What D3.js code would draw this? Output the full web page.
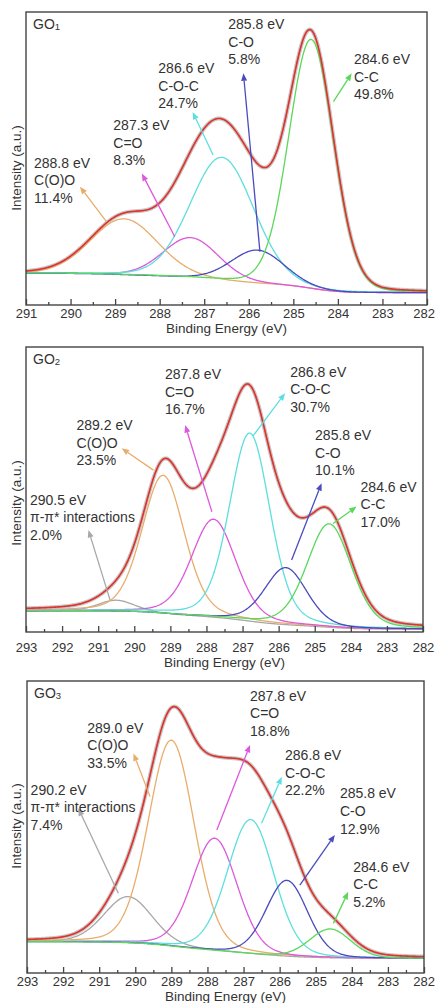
<!DOCTYPE html>
<html>
<head>
<meta charset="utf-8">
<script src="https://cdn.jsdelivr.net/npm/d3@7/dist/d3.min.js"></script>
<style>
  body { margin: 0; background: #fff; }
  svg { display: block; }
  text { font-family: "Liberation Sans", Arial, Helvetica, sans-serif; fill: #333; }
</style>
</head>
<body>
<svg id="chart" width="436" height="1003"></svg>
<script>
// ---------- C 1s fitted components, GO1 ----------
const go1Species = ["C(O)O", "C=O", "C-O-C", "C-O", "C-C"];
const go1Energy  = [288.8, 287.3, 286.6, 285.8, 284.6];   // eV
const go1Percent = [11.4, 8.3, 24.7, 5.8, 49.8];          // area %
const go1Height  = [19.1, 13.7, 42.0, 11.3, 85.0];        // a.u.
const go1Fwhm    = [1.77, 1.46, 1.68, 1.41, 1.18];        // eV
const go1Mix     = 0.1;                                   // Lorentzian fraction
const go1Baseline = [10.8, 4.2];                          // background at high / low BE
const go1Domain  = [291, 282];

// ---------- C 1s fitted components, GO2 ----------
const go2Species = ["π-π* interactions", "C(O)O", "C=O", "C-O-C", "C-O", "C-C"];
const go2Energy  = [290.5, 289.2, 287.8, 286.8, 285.8, 284.6];
const go2Percent = [2.0, 23.5, 16.7, 30.7, 10.1, 17.0];
const go2Height  = [3.9, 48.5, 34.4, 66.0, 20.0, 36.3];
const go2Fwhm    = [1.2, 1.38, 1.45, 1.33, 1.38, 1.45];
const go2Mix     = 0.25;
const go2Baseline = [7.4, 1.0];
const go2Domain  = [293, 282];

// ---------- C 1s fitted components, GO3 ----------
const go3Species = ["π-π* interactions", "C(O)O", "C=O", "C-O-C", "C-O", "C-C"];
const go3Energy  = [290.2, 289.0, 287.8, 286.8, 285.8, 284.6];
const go3Percent = [7.4, 33.5, 18.8, 22.2, 12.9, 5.2];
const go3Height  = [15.8, 70.5, 38.4, 45.9, 26.0, 9.9];
const go3Fwhm    = [1.57, 1.5, 1.47, 1.52, 1.35, 1.35];
const go3Mix     = 0.15;
const go3Baseline = [10.7, 5.0];
const go3Domain  = [293, 282];

// ---------- annotation placement, [eV, a.u.] ----------
const go1NoteAt    = [[290.82, 46.8], [289.04, 59.7], [288.03, 79.1], [286.46, 94.1], [283.64, 82.2]];
const go1ArrowFrom = [[289.19, 28.4], [287.66, 23.3], [286.80, 51.2], [285.75, 18.2], [284.10, 69.4]];
const go1ArrowTo   = [[289.79, 40.4], [288.40, 44.9], [287.26, 65.9], [286.12, 79.1], [283.69, 79.1]];

const go2NoteAt    = [[292.89, 44.6], [291.60, 70.9], [289.15, 88.7], [285.68, 89.6], [284.99, 67.4], [283.73, 49.2]];
const go2ArrowFrom = [[290.67, 11.2], [289.47, 56.8], [287.85, 42.2], [286.71, 68.8], [285.64, 25.3], [284.49, 38.1]];
const go2ArrowTo   = [[291.27, 35.8], [290.35, 64.5], [288.59, 72.6], [285.82, 83.8], [284.81, 52.2], [283.84, 44.0]];

const go3NoteAt    = [[292.90, 61.0], [291.33, 82.3], [286.82, 93.2], [285.85, 72.9], [284.33, 59.8], [283.96, 34.7]];
const go3ArrowFrom = [[290.47, 27.3], [289.59, 60.4], [287.74, 49.0], [286.50, 51.3], [285.44, 30.1], [284.51, 17.0]];
const go3ArrowTo   = [[291.58, 56.4], [290.05, 75.2], [286.82, 78.1], [285.94, 67.2], [284.47, 47.3], [284.10, 27.8]];

const sampleNames = ["1", "2", "3"];

// line colour for each chemical state
const speciesColor = {
  "π-π* interactions": "#a8a8a8",
  "C(O)O": "#e8ad6c",
  "C=O": "#dc58dc",
  "C-O-C": "#5edede",
  "C-O": "#4b4bbd",
  "C-C": "#5ad85a"
};

// panel frames on the page
const frames = [
  { l: 26, r: 427, t: 12,  b: 305, tickY: 318,   titleY: 333,    yTitle: 168 },
  { l: 26, r: 423, t: 347, b: 632, tickY: 651.5, titleY: 666.5,  yTitle: 503 },
  { l: 27, r: 424, t: 681, b: 973, tickY: 985.5, titleY: 1000.5, yTitle: 826 }
];

const panels = [
  { species: go1Species, energy: go1Energy, percent: go1Percent, height: go1Height, fwhm: go1Fwhm, mix: go1Mix,
    baseline: go1Baseline, domain: go1Domain, noteAt: go1NoteAt, from: go1ArrowFrom, to: go1ArrowTo },
  { species: go2Species, energy: go2Energy, percent: go2Percent, height: go2Height, fwhm: go2Fwhm, mix: go2Mix,
    baseline: go2Baseline, domain: go2Domain, noteAt: go2NoteAt, from: go2ArrowFrom, to: go2ArrowTo },
  { species: go3Species, energy: go3Energy, percent: go3Percent, height: go3Height, fwhm: go3Fwhm, mix: go3Mix,
    baseline: go3Baseline, domain: go3Domain, noteAt: go3NoteAt, from: go3ArrowFrom, to: go3ArrowTo }
];

// Gaussian-Lorentzian (pseudo-Voigt) line shape
function lineShape(e, c, h, w, m) {
  const t = (e - c) / w;
  return h * ((1 - m) * Math.exp(-4 * Math.LN2 * t * t) + m / (1 + 4 * t * t));
}

const svg = d3.select("#chart");
const FONT = 14;
const LINE = 17.6;

panels.forEach((p, pi) => {
  const f = frames[pi];
  const x = d3.scaleLinear().domain(p.domain).range([f.l, f.r]);
  const y = d3.scaleLinear().domain([0, 100]).range([f.b, f.t]);
  const g = svg.append("g");

  // energy grid from low to high binding energy
  const lo = Math.min(...p.domain), hi = Math.max(...p.domain);
  const grid = d3.range(lo, hi + 0.0001, 0.02);
  const peaks = p.energy.map((c, i) => grid.map(e => lineShape(e, c, p.height[i], p.fwhm[i], p.mix)));
  const sum = grid.map((e, k) => d3.sum(peaks, arr => arr[k]));

  // Shirley-type background: rises with the integrated peak area toward high BE
  const cum = [];
  let acc = 0;
  sum.forEach(v => { acc += v; cum.push(acc); });
  const bgHigh = p.baseline[0], bgLow = p.baseline[1];
  const bg = cum.map(a => bgLow + (bgHigh - bgLow) * a / acc);

  const line = d3.line().x(d => x(d[0])).y(d => y(d[1]));

  const clip = "clip" + pi;
  svg.append("clipPath").attr("id", clip).append("rect")
    .attr("x", f.l).attr("y", f.t).attr("width", f.r - f.l).attr("height", f.b - f.t);
  const plot = g.append("g").attr("clip-path", `url(#${clip})`);

  // measured spectrum (grey) under the fitted envelope
  const env = grid.map((e, k) => [e, bg[k] + sum[k]]);
  plot.append("path").attr("d", line(env))
    .attr("fill", "none").attr("stroke", "#b4b4b4").attr("stroke-width", 4).attr("opacity", 0.75);
  plot.append("path").attr("d", line(env))
    .attr("fill", "none").attr("stroke", "#555").attr("stroke-width", 0.6).attr("opacity", 0.6);

  // components, each riding on the background
  p.species.forEach((s, i) => {
    const pts = grid.map((e, k) => [e, bg[k] + peaks[i][k]]);
    plot.append("path").attr("d", line(pts))
      .attr("fill", "none").attr("stroke", speciesColor[s]).attr("stroke-width", 1.3);
  });

  // fitted envelope
  plot.append("path").attr("d", line(env))
    .attr("fill", "none").attr("stroke", "#e3312b").attr("stroke-width", 1.6);

  // frame
  g.append("rect").attr("x", f.l).attr("y", f.t).attr("width", f.r - f.l).attr("height", f.b - f.t)
    .attr("fill", "none").attr("stroke", "#444").attr("stroke-width", 1.4);

  // bottom axis: inward ticks, majors every eV, minors every 0.5 eV
  const majors = d3.range(lo, hi + 0.001, 1);
  const minors = d3.range(lo + 0.5, hi, 1);
  const axMajor = d3.axisBottom(x).tickValues(majors).tickSize(-6).tickPadding(0).tickFormat(d3.format("d"));
  const axMinor = d3.axisBottom(x).tickValues(minors).tickSize(-3).tickFormat("");
  const gMaj = g.append("g").attr("transform", `translate(0,${f.b})`).call(axMajor);
  const gMin = g.append("g").attr("transform", `translate(0,${f.b})`).call(axMinor);
  [gMaj, gMin].forEach(a => {
    a.select(".domain").remove();
    a.selectAll(".tick line").attr("stroke", "#444").attr("stroke-width", 1.3);
  });
  gMaj.selectAll(".tick text")
    .attr("y", f.tickY - f.b).attr("dy", 0)
    .style("font-size", "13px").style("font-family", "Liberation Sans, Arial, sans-serif")
    .attr("fill", "#333");
  // keep the outermost label inside the page
  gMaj.selectAll(".tick text").each(function () {
    const b = this.getBoundingClientRect();
    if (b.right > 435) d3.select(this).attr("dx", -(b.right - 435));
  });

  // axis titles
  g.append("text").attr("x", (f.l + f.r) / 2).attr("y", f.titleY)
    .attr("text-anchor", "middle").style("font-size", "13.5px").text("Binding Energy (eV)");
  g.append("text").attr("transform", `translate(21,${f.yTitle}) rotate(-90)`)
    .attr("text-anchor", "middle").style("font-size", "13.5px").text("Intensity (a.u.)");

  // sample name
  const name = g.append("text").attr("x", f.l + 7).attr("y", f.t + 17).style("font-size", "14px");
  name.append("tspan").text("GO");
  name.append("tspan").text(sampleNames[pi]).style("font-size", "9.5px").attr("dy", 1);

  // peak annotations with arrows
  p.species.forEach((s, i) => {
    const col = speciesColor[s];
    const x0 = x(p.from[i][0]), y0 = y(p.from[i][1]);
    const x1 = x(p.to[i][0]), y1 = y(p.to[i][1]);
    const ang = Math.atan2(y1 - y0, x1 - x0);
    const L = 7.5, W = 3;
    const bx = x1 - L * Math.cos(ang), by = y1 - L * Math.sin(ang);
    g.append("line").attr("x1", x0).attr("y1", y0).attr("x2", bx).attr("y2", by)
      .attr("stroke", col).attr("stroke-width", 1.3);
    g.append("path")
      .attr("d", `M${x1},${y1}L${bx - W * Math.sin(ang)},${by + W * Math.cos(ang)}L${bx + W * Math.sin(ang)},${by - W * Math.cos(ang)}Z`)
      .attr("fill", col);

    const tx = x(p.noteAt[i][0]), ty = y(p.noteAt[i][1]);
    const lines = [`${p.energy[i].toFixed(1)} eV`, s, `${p.percent[i].toFixed(1)}%`];
    const t = g.append("text").attr("x", tx).attr("y", ty).style("font-size", FONT + "px");
    lines.forEach((ln, j) => t.append("tspan").attr("x", tx).attr("y", ty + j * LINE).text(ln));
  });
});
</script>
</body>
</html>
